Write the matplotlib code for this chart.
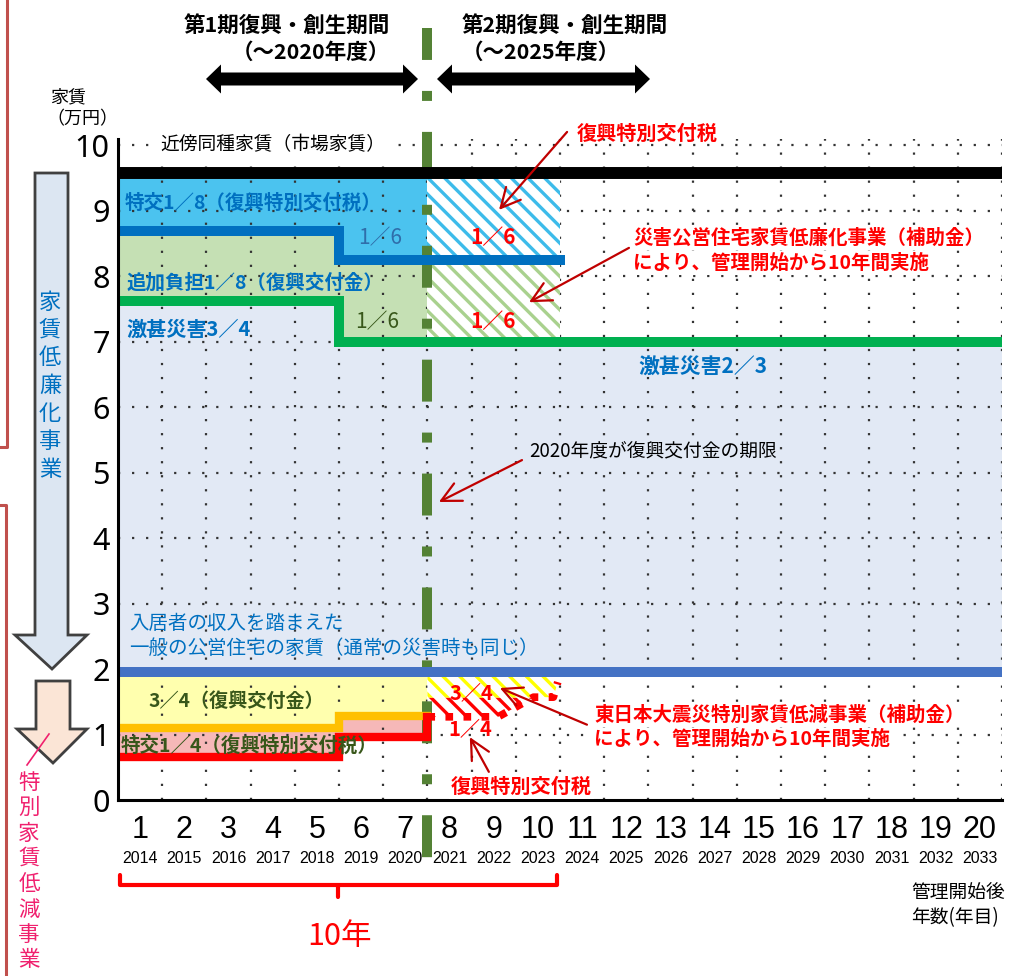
import numpy as np
import matplotlib
matplotlib.use("Agg")
import matplotlib.pyplot as plt
from matplotlib.patches import Polygon
from matplotlib.lines import Line2D

plt.rcParams['font.family'] = ['Noto Sans CJK JP', 'DejaVu Sans']
plt.rcParams['lines.scale_dashes'] = False
plt.rcParams['hatch.linewidth'] = 2.4

# 管理開始後の年数と年度
years_no = list(range(1, 21))
fiscal_years = [str(y) for y in range(2014, 2034)]

market_rent = 9.57      # 近傍同種家賃（市場家賃）
general_rent = 1.95     # 一般の公営住宅の家賃

# 第1期（～2020年度）の段階、step='post'
gen_x = [0.5, 5.5, 7.5]
tokko8_y = [8.69, 8.24, 8.24]     # 特交1/8 の下端（青線）
gekijin_y = [7.62, 7.00, 7.00]    # 激甚災害の上端（緑線）
kofu34_y = [1.10, 1.28, 1.28]     # 復興交付金3/4 の下端（橙線）
tokko4_y = [0.66, 0.96, 0.96]     # 特交1/4 の下端（赤線）

# 第2期以降
blue_end = 10.5
green_end = 20.5
period2_x = [7.5, 10.5]

# 特別家賃低減事業（第2期）の赤点線
dash_x = [7.5, 9.1, 9.45, 9.9, 10.35, 10.45]
dash_y = [1.27, 1.27, 1.40, 1.57, 1.57, 1.80]
hatch_split = 1.56

W, H = 1032, 976
fig = plt.figure(figsize=(W / 100, H / 100), dpi=100)
ax = fig.add_axes([118 / W, (H - 800) / H, 884 / W, 661.5 / H])
ax.set_xlim(0.5, 20.5)
ax.set_ylim(0, 10.1)


def P(x, y):
    return (x / W, 1 - y / H)


# 塗り
ax.fill_between([0.5, 5.5, green_end], general_rent, [gekijin_y[0], gekijin_y[1], gekijin_y[2]],
                step='post', color='#E2E9F5', lw=0, zorder=1)
ax.fill_between(gen_x, tokko8_y, market_rent, step='post', color='#4BC3EF', lw=0, zorder=1)
ax.fill_between(gen_x, gekijin_y, tokko8_y, step='post', color='#C5E0B4', lw=0, zorder=1)
ax.fill_between(gen_x, kofu34_y, general_rent, step='post', color='#FFFFAE', lw=0, zorder=1)
ax.fill_between(gen_x, tokko4_y, kofu34_y, step='post', color='#F6B8B8', lw=0, zorder=1)

# グリッド（点線）
grid_ls = (0, (1.6, 8.5))
ax.hlines(range(1, 11), 0.5, 20.5, colors='#333333', lw=1.6, linestyles=[grid_ls], zorder=1.5)
ax.vlines(np.arange(1.5, 21, 1), 0, 10.1, colors='#333333', lw=1.6, linestyles=[grid_ls], zorder=1.5)

# 第2期の斜線部分
ax.fill_between(period2_x, tokko8_y[-1], market_rent, facecolor='white', edgecolor='#3DBBEA',
                hatch='\\\\', lw=0, zorder=2)
ax.fill_between(period2_x, gekijin_y[-1], tokko8_y[-1], facecolor='white', edgecolor='#A9D18E',
                hatch='\\\\', lw=0, zorder=2)
dx = np.array(dash_x)
dy = np.array(dash_y)
ax.fill_between(dx, np.maximum(dy, hatch_split), general_rent, facecolor='white', edgecolor='#FFFF00',
                hatch='\\\\', lw=0, zorder=2)
ax.fill_between(dx, dy, hatch_split, where=dy < hatch_split, interpolate=True, facecolor='white',
                edgecolor='#FF0000', hatch='\\\\', lw=0, zorder=2)

# 復興・創生期間の区切り（一点鎖線）
ax.plot([7.5, 7.5], [11.79, -0.95], color='#548235', lw=7.2, solid_capstyle='butt',
        dash_capstyle='butt', linestyle=(7.2, (30.2, 22.3, 7.2, 22.3)), clip_on=False, zorder=2.5)

# 段階線
ax.hlines(market_rent, 0.5, 20.5, color='black', lw=8.6, zorder=3)
ax.step([0.5, 5.5, blue_end], [tokko8_y[0], tokko8_y[1], tokko8_y[1]], where='post',
        color='#0070C0', lw=7.2, zorder=3, solid_joinstyle='miter')
ax.step([0.5, 5.5, green_end], [gekijin_y[0], gekijin_y[1], gekijin_y[1]], where='post',
        color='#00B050', lw=7.2, zorder=3, solid_joinstyle='miter')
ax.hlines(general_rent, 0.5, 20.5, color='#4472C4', lw=7.2, zorder=3)
ax.step(gen_x, kofu34_y, where='post', color='#FFC000', lw=6, zorder=3, solid_joinstyle='miter')
ax.step(gen_x + [gen_x[-1]], tokko4_y[:2] + [dash_y[0]] * 2, where='post', color='#FF0000',
        lw=6, zorder=3.2, solid_joinstyle='miter')
ax.plot(dash_x, dash_y, color='#FF0000', lw=5.5, linestyle=(0, (5.5, 7.5)), dash_capstyle='butt',
        zorder=3.2)

# 軸
for s in ['top', 'right']:
    ax.spines[s].set_visible(False)
for s in ['left', 'bottom']:
    ax.spines[s].set_linewidth(2.2)
    ax.spines[s].set_zorder(4)
ax.set_yticks(range(11))
ax.set_yticklabels([str(v) for v in range(11)], family=['Noto Sans', 'DejaVu Sans'], fontsize=22)
ax.tick_params(axis='y', length=0, pad=6)
ax.set_xticks([])
for n, fy in zip(years_no, fiscal_years):
    ax.annotate(str(n), xy=(n, 0), xycoords=('data', 'axes fraction'), xytext=(0, -27.5),
                textcoords='offset points', ha='center', va='baseline',
                family=['Liberation Sans', 'DejaVu Sans'], fontsize=22, annotation_clip=False)
    ax.annotate(fy, xy=(n, 0), xycoords=('data', 'axes fraction'), xytext=(0, -45.5),
                textcoords='offset points', ha='center', va='baseline',
                family=['Liberation Sans', 'DejaVu Sans'], fontsize=11.5, annotation_clip=False)


def label(s, x, y, color, size=14, weight='bold', ha='left', bg=None):
    kw = {}
    if bg is not None:
        kw['bbox'] = dict(facecolor=bg, edgecolor='none', pad=1.5)
    ax.text(x, y, s, color=color, fontsize=size, fontweight=weight, ha=ha, va='center',
            zorder=5, clip_on=False, **kw)


def pointer(x0, y0, x1, y1):
    ax.annotate('', xy=(x1, y1), xytext=(x0, y0), annotation_clip=False,
                arrowprops=dict(arrowstyle='->,head_length=0.7,head_width=0.35', color='#C00000',
                                lw=1.6, shrinkA=0, shrinkB=0, mutation_scale=20), zorder=6)


blue = '#0070C0'
dgreen = '#38571A'
red = '#FF0000'

label('近傍同種家賃（市場家賃）', 1.45, 10.0, 'black', 13.5, 'normal', bg='white')
label('特交1／8（復興特別交付税）', 0.66, 9.11, blue, 14)
label('1／6', 6.43, 8.58, '#2F6EAA', 15, 'normal', ha='center')
label('追加負担1／8（復興交付金）', 0.70, 7.89, blue, 14)
label('1／6', 6.36, 7.30, dgreen, 15, 'normal', ha='center')
label('激甚災害3／4', 0.70, 7.18, blue, 14.5)
label('1／6', 8.98, 8.58, red, 15, ha='center')
label('1／6', 8.98, 7.30, red, 15, ha='center')
label('復興特別交付税', 10.88, 10.18, red, 14.5)
pointer(10.66, 10.2, 9.12, 9.01)
label('災害公営住宅家賃低廉化事業（補助金）', 12.15, 8.58, red, 14, bg='white')
label('により、管理開始から10年間実施', 12.15, 8.2, red, 14, bg='white')
pointer(12.06, 8.43, 9.80, 7.60)
label('激甚災害2／3', 13.74, 6.61, blue, 15, ha='center')
label('2020年度が復興交付金の期限', 9.80, 5.31, 'black', 13.5, 'normal', bg='#E2E9F5')
pointer(9.64, 5.19, 7.76, 4.55)
label('入居者の収入を踏まえた', 0.75, 2.70, blue, 14, 'normal')
label('一般の公営住宅の家賃（通常の災害時も同じ）', 0.75, 2.32, blue, 14, 'normal')
label('3／4（復興交付金）', 1.18, 1.50, dgreen, 13.8)
label('特交1／4（復興特別交付税）', 0.55, 0.82, dgreen, 14)
label('3／4', 8.49, 1.63, red, 14.5, ha='center')
label('1／4', 8.46, 1.07, red, 14.5, ha='center')
label('東日本大震災特別家賃低減事業（補助金）', 11.27, 1.30, red, 14, bg='white')
label('により、管理開始から10年間実施', 11.27, 0.92, red, 14, bg='white')
pointer(11.11, 1.15, 9.14, 1.71)
label('復興特別交付税', 8.03, 0.20, red, 14.5, bg='white')
pointer(8.89, 0.43, 8.46, 0.96)

# 10年の括弧
xt = ax.get_xaxis_transform()
ax.plot([0.55, 0.55, 10.43, 10.43], [-0.1134, -0.1285, -0.1285, -0.1134], color=red, lw=3,
        transform=xt, clip_on=False, solid_joinstyle='round', solid_capstyle='round')
ax.plot([5.48, 5.48], [-0.1285, -0.1466], color=red, lw=3, transform=xt, clip_on=False,
        solid_capstyle='round')
ax.text(5.5, -0.207, '10年', transform=xt, color=red, fontsize=22, ha='center', va='center')

# 図の外側の注記
fig.text(*P(911, 893), '管理開始後', fontsize=13.5, va='center')
fig.text(*P(911, 918), '年数(年目)', fontsize=13.5, va='center')
fig.text(*P(50, 97), '家賃', fontsize=13, va='center')
fig.text(*P(46, 119), '（万円）', fontsize=13, va='center')
fig.text(*P(390, 25), '第1期復興・創生期間', fontsize=15.5, fontweight='bold', ha='right', va='center')
fig.text(*P(390, 52), '（～2020年度）', fontsize=15.5, fontweight='bold', ha='right', va='center')
fig.text(*P(462, 25), '第2期復興・創生期間', fontsize=15.5, fontweight='bold', ha='left', va='center')
fig.text(*P(462, 52), '（～2025年度）', fontsize=15.5, fontweight='bold', ha='left', va='center')


def double_arrow(xa, xb, y, st=6.5, hl=15, hw=14.5):
    pts = [(xa, y), (xa + hl, y - hw), (xa + hl, y - st), (xb - hl, y - st), (xb - hl, y - hw),
           (xb, y), (xb - hl, y + hw), (xb - hl, y + st), (xa + hl, y + st), (xa + hl, y + hw)]
    fig.patches.append(Polygon([P(*p) for p in pts], closed=True, transform=fig.transFigure,
                               facecolor='black', edgecolor='none'))


double_arrow(206, 418, 79)
double_arrow(437, 650, 79)

# 左の矢印（家賃低廉化事業・特別家賃低減事業）
big = [(35, 173), (68, 173), (68, 635), (87, 635), (52, 669), (15, 635), (35, 635)]
small = [(36, 681), (70, 681), (70, 729), (87, 729), (53, 763), (17, 729), (36, 729)]
fig.patches.append(Polygon([P(*p) for p in big], closed=True, transform=fig.transFigure,
                           facecolor='#DCE6F2', edgecolor='#404040', lw=2))
fig.patches.append(Polygon([P(*p) for p in small], closed=True, transform=fig.transFigure,
                           facecolor='#FBE5D6', edgecolor='#404040', lw=2))
for i, ch in enumerate('家賃低廉化事業'):
    fig.text(*P(50, 302 + 27.9 * i), ch, color=blue, fontsize=16, ha='center', va='center')
for i, ch in enumerate('特別家賃低減事業'):
    fig.text(*P(29, 783 + 25.3 * i), ch, color='#F0206E', fontsize=15.5, ha='center', va='center')
fig.lines.append(Line2D([27 / W, 49 / W], [1 - 765 / H, 1 - 734 / H], transform=fig.transFigure,
                        color='#F0206E', lw=1.2))

# 左端の括弧線
fig.lines.append(Line2D([7 / W, 7 / W, 0], [1, 1 - 447 / H, 1 - 447 / H], transform=fig.transFigure,
                        color='#C0504D', lw=2.2))
fig.lines.append(Line2D([0, 6 / W, 6 / W], [1 - 505 / H, 1 - 505 / H, 0], transform=fig.transFigure,
                        color='#C0504D', lw=2.2))

fig.savefig('out.png', dpi=100)
